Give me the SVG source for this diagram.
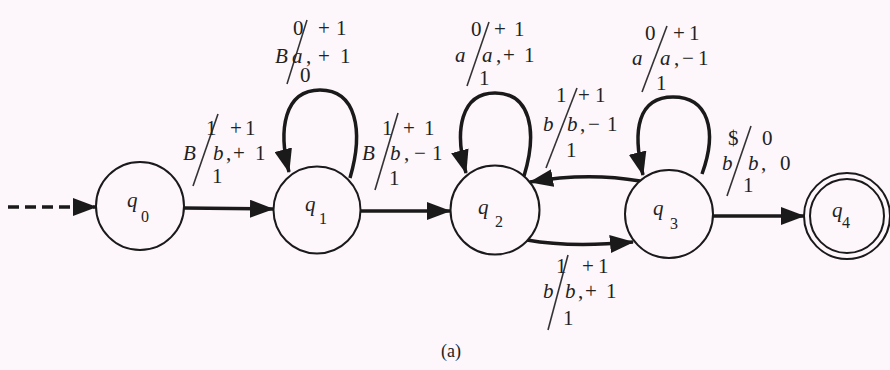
<svg xmlns="http://www.w3.org/2000/svg" width="890" height="370" viewBox="0 0 890 370" font-family="'Liberation Serif', 'Times New Roman', serif">
<defs>
<marker id="ah" markerUnits="userSpaceOnUse" markerWidth="24" markerHeight="18" refX="23" refY="9" orient="auto">
<path d="M0,0 L24,9 L0,18 z" fill="#1a1a1a"/>
</marker>
</defs>
<style>
.bg{fill:#fdf6fb}
.node{fill:#fdf6fb;stroke:#1a1a1a;stroke-width:2}
.edge{fill:none;stroke:#1a1a1a;stroke-width:3.5}
.dash{stroke-dasharray:11 6}
text{font-family:'Liberation Serif',serif;fill:#222}
.t{font-size:21px}
.i{font-style:italic}
.q{font-size:21px;font-style:italic}
.s{font-size:16px}
.sl{stroke:#333;stroke-width:1.6}
.cap{font-size:18px}
</style>
<rect class="bg" x="0" y="0" width="890" height="370"/>

<g id="edges">
<line class="edge dash" x1="8" y1="207" x2="96" y2="207" marker-end="url(#ah)"/>
<line class="edge" x1="184" y1="208" x2="273" y2="209" marker-end="url(#ah)"/>
<line class="edge" x1="361" y1="211" x2="450" y2="211" marker-end="url(#ah)"/>
<line class="edge" x1="713" y1="216" x2="804" y2="216" marker-end="url(#ah)"/>
<path class="edge" d="M350,178 C364,130 356,90 320,90 C284,90 278,130 289,172" marker-end="url(#ah)"/>
<path class="edge" d="M524,176 C538,130 530,93 495,93 C461,93 454,130 466,173" marker-end="url(#ah)"/>
<path class="edge" d="M702,174 C718,130 708,97 673,97 C638,97 632,130 643,175" marker-end="url(#ah)"/>
<path class="edge" d="M640,181 C605,175 570,175 530,182" marker-end="url(#ah)"/>
<path class="edge" d="M527,240 C560,246 600,245 633,242" marker-end="url(#ah)"/>
</g>

<g id="q0"><circle class="node" cx="140" cy="206" r="44"/><text class="q" x="127" y="207">q</text><text class="s" x="141" y="222">0</text></g>
<g id="q1"><circle class="node" cx="317" cy="210" r="43.5"/><text class="q" x="305" y="211">q</text><text class="s" x="319" y="224">1</text></g>
<g id="q2"><circle class="node" cx="495" cy="210" r="44.5"/><text class="q" x="478" y="214">q</text><text class="s" x="495" y="227">2</text></g>
<g id="q3"><circle class="node" cx="669" cy="214" r="44"/><text class="q" x="653" y="215">q</text><text class="s" x="670" y="229">3</text></g>
<g id="q4"><circle class="node" cx="847" cy="216" r="43"/><circle class="node" cx="847" cy="216" r="37"/><text class="q" x="832" y="217">q</text><text class="s" x="842" y="228">4</text></g>

<g id="label-q1-loop">
<line class="sl" x1="307" y1="20" x2="287" y2="84"/>
<text class="t" x="293" y="35">0</text><text class="t" x="318 336" y="35">+1</text>
<text class="t i" x="275" y="63">B</text><text class="t i" x="292" y="63">a</text><text class="t" x="306 318 340" y="63">,+1</text>
<text class="t" x="300" y="82">0</text>
</g>
<g id="label-q2-loop">
<line class="sl" x1="489" y1="22" x2="467" y2="86"/>
<text class="t" x="471" y="36">0</text><text class="t" x="494 514" y="36">+1</text>
<text class="t i" x="455" y="62">a</text><text class="t i" x="482" y="62">a</text><text class="t" x="496 503 524" y="62">,+1</text>
<text class="t" x="479" y="85">1</text>
</g>
<g id="label-q3-loop">
<line class="sl" x1="667" y1="26" x2="642" y2="92"/>
<text class="t" x="645" y="40">0</text><text class="t" x="673 689" y="40">+1</text>
<text class="t i" x="632" y="65">a</text><text class="t i" x="660" y="65">a</text><text class="t" x="674 682 698" y="65">,−1</text>
<text class="t" x="656" y="90">1</text>
</g>
<g id="label-q0-q1">
<line class="sl" x1="218" y1="114" x2="193" y2="186"/>
<text class="t" x="206" y="135">1</text><text class="t" x="230 245" y="135">+1</text>
<text class="t i" x="183" y="160">B</text><text class="t i" x="213" y="160">b</text><text class="t" x="226 233 255" y="160">,+1</text>
<text class="t" x="212" y="183">1</text>
</g>
<g id="label-q1-q2">
<line class="sl" x1="398" y1="113" x2="375" y2="190"/>
<text class="t" x="382" y="135">1</text><text class="t" x="403 424" y="135">+1</text>
<text class="t i" x="362" y="160">B</text><text class="t i" x="390" y="160">b</text><text class="t" x="404 414 432" y="160">,−1</text>
<text class="t" x="389" y="185">1</text>
</g>
<g id="label-q3-q2">
<line class="sl" x1="577" y1="88" x2="546" y2="168"/>
<text class="t" x="556" y="102">1</text><text class="t" x="578 595" y="102">+1</text>
<text class="t i" x="543" y="131">b</text><text class="t i" x="567" y="131">b</text><text class="t" x="580 588 607" y="131">,−1</text>
<text class="t" x="566" y="157">1</text>
</g>
<g id="label-q3-q4">
<line class="sl" x1="751" y1="126" x2="727" y2="196"/>
<text class="t" x="728" y="145">$</text><text class="t" x="762" y="145">0</text>
<text class="t i" x="722" y="170">b</text><text class="t i" x="748" y="170">b</text><text class="t" x="761 780" y="170">,0</text>
<text class="t" x="743" y="192">1</text>
</g>
<g id="label-q2-q3">
<line class="sl" x1="568" y1="255" x2="548" y2="330"/>
<text class="t" x="556" y="273">1</text><text class="t" x="582 598" y="273">+1</text>
<text class="t i" x="543" y="298">b</text><text class="t i" x="565" y="298">b</text><text class="t" x="578 585 606" y="298">,+1</text>
<text class="t" x="563" y="325">1</text>
</g>

<text class="cap" x="451" y="357" text-anchor="middle">(a)</text>
</svg>
